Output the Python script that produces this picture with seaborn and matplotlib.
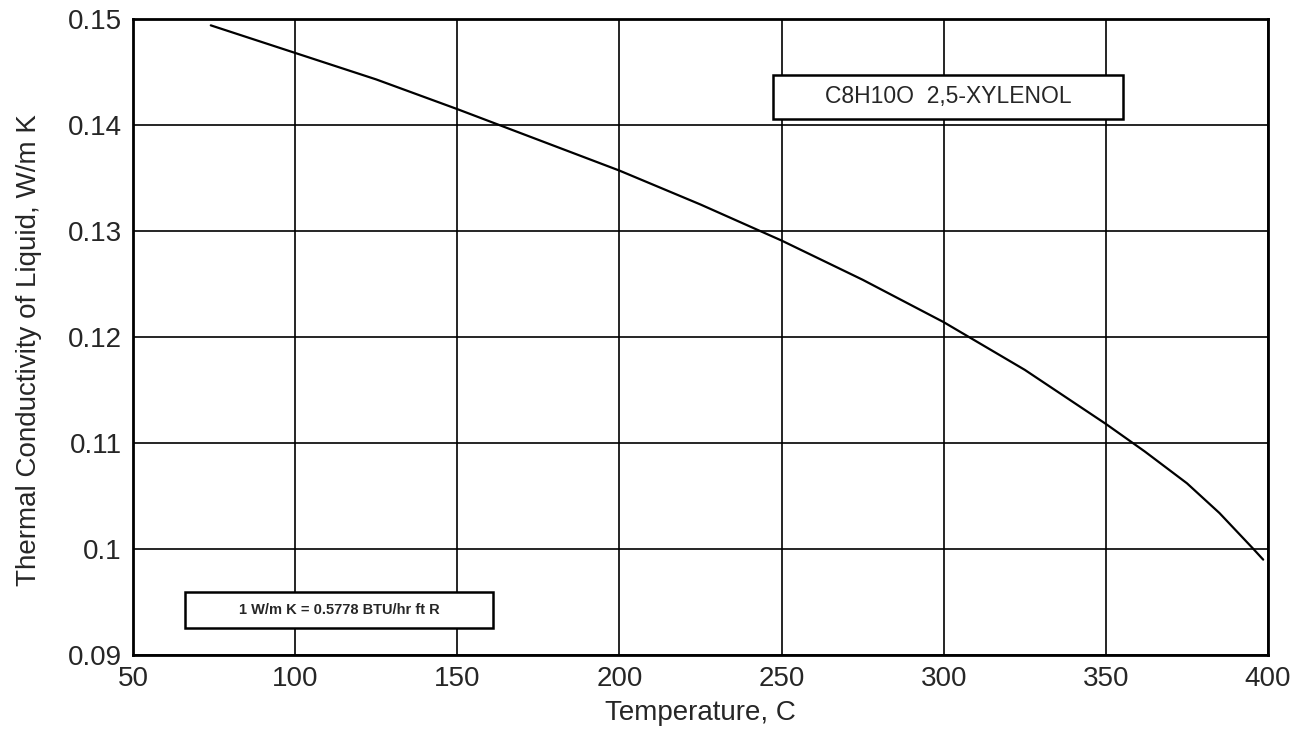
import pandas as pd
import matplotlib.pyplot as plt
import seaborn as sns
from matplotlib.patches import Rectangle

# values
temperature = [74, 100, 125, 150, 175, 200, 225, 250, 275, 300, 325, 350, 362, 375, 385, 395.5, 398.5]
conductivity = [0.1494, 0.1468, 0.1443, 0.1415, 0.1386, 0.1357, 0.1325, 0.1291,
                0.1254, 0.1214, 0.1169, 0.1118, 0.1092, 0.1062, 0.1034, 0.1000, 0.0990]
x_ticks = [50, 100, 150, 200, 250, 300, 350, 400]
y_ticks = [0.09, 0.1, 0.11, 0.12, 0.13, 0.14, 0.15]
y_tick_labels = ["0.09", "0.1", "0.11", "0.12", "0.13", "0.14", "0.15"]

df = pd.DataFrame({"T": temperature, "k": conductivity})

sns.set_style("white")
plt.rcParams['font.family'] = ['Liberation Sans', 'DejaVu Sans']

fig = plt.figure(figsize=(13.15, 7.36), dpi=100)
ax = fig.add_axes([0.1011, 0.110, 0.8632, 0.8642])

sns.lineplot(data=df, x="T", y="k", color="black", linewidth=1.6, ax=ax)

ax.set_xlim(50, 400)
ax.set_ylim(0.09, 0.15)
ax.set_xticks(x_ticks)
ax.set_yticks(y_ticks)
ax.set_yticklabels(y_tick_labels)
ax.grid(True, color="black", linewidth=1.2)
ax.tick_params(direction="out", length=7, width=1.5, labelsize=20, color="black", pad=1)
for s in ax.spines.values():
    s.set_color("black")
    s.set_linewidth(2)

ax.set_xlabel("Temperature, C", fontsize=20)
ax.set_ylabel("Thermal Conductivity of Liquid, W/m K", fontsize=20)
ax.xaxis.set_label_coords(0.5, -0.07)
ax.yaxis.set_label_coords(-0.08, 0.48)

# label boxes
ax.add_patch(Rectangle((0.564, 0.843), 0.308, 0.069, transform=ax.transAxes,
                       facecolor="white", edgecolor="black", linewidth=1.8, zorder=5))
ax.text(0.718, 0.8775, "C8H10O  2,5-XYLENOL", transform=ax.transAxes, fontsize=16.5,
        ha="center", va="center", zorder=6)

ax.add_patch(Rectangle((0.0458, 0.0425), 0.2712, 0.0565, transform=ax.transAxes,
                       facecolor="white", edgecolor="black", linewidth=1.8, zorder=5))
ax.text(0.1814, 0.0708, "1 W/m K = 0.5778 BTU/hr ft R", transform=ax.transAxes, fontsize=10.5,
        fontweight="bold", ha="center", va="center", zorder=6)

plt.savefig("out.png", dpi=100)
